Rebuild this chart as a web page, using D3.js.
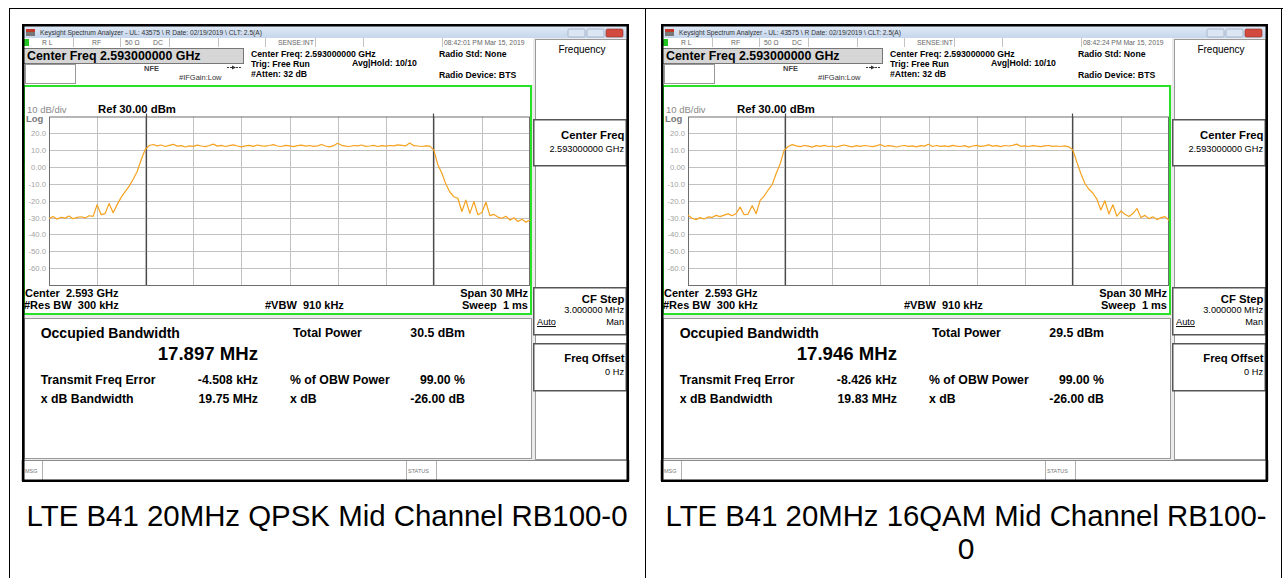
<!DOCTYPE html>
<html lang="en">
<head>
<meta charset="UTF-8">
<title>LTE B41 Occupied Bandwidth</title>
<script src="https://d3js.org/d3.v7.min.js"></script>
<style>
  body { margin: 0; background: #fff; }
  svg { display: block; font-family: 'Liberation Sans', Arial, sans-serif; }
  text { white-space: pre; }
</style>
</head>
<body>
<svg id="page" width="1283" height="578"></svg>
<script>
  // values
  var captions = [
    ['LTE B41 20MHz QPSK Mid Channel RB100-0'],
    ['LTE B41 20MHz 16QAM Mid Channel RB100-', '0']
  ];
  var timestamps = ['08:42:01 PM Mar 15, 2019', '08:42:24 PM Mar 15, 2019'];
  var obwMHz = [17.897, 17.946];
  var obwText = ['17.897 MHz', '17.946 MHz'];
  var totalPower = ['30.5 dBm', '29.5 dBm'];
  var freqError = ['-4.508 kHz', '-8.426 kHz'];
  var xdbBandwidth = ['19.75 MHz', '19.83 MHz'];
  var spanMHz = [-15, 15];
  var xGridMHz = [-12, -9, -6, -3, 0, 3, 6, 9, 12];
  var yRange = [-70, 30];
  var yTicks = [20, 10, 0, -10, -20, -30, -40, -50, -60];
  var yTickLabels = ['20.0', '10.0', '0.00', '-10.0', '-20.0', '-30.0', '-40.0', '-50.0', '-60.0'];

  // trace points in dBm, 121 points across the 30 MHz span
  var traceQPSK = [
    -30.6, -29.4, -30.9, -29.8, -30.3, -29.1, -30.7, -29.9, -29.5, -30.2, -28.9, -29.3,
    -22.4, -28.2, -27.6, -21.6, -27.1, -22.3, -18.0, -14.6, -11.3, -7.2, -2.6, 4.3, 10.4,
    12.8, 13.4, 12.6, 13.1, 12.2, 12.9, 13.5, 12.4, 12.7, 11.9,
    12.6, 12.3, 13.0, 12.5, 12.1, 12.8, 13.6, 12.4, 12.9, 12.2,
    12.7, 13.2, 12.5, 12.0, 12.6, 12.9, 12.3, 13.1, 12.6, 12.4,
    12.8, 13.3, 12.5, 12.2, 12.9, 12.6, 12.1, 12.7, 13.0, 12.4,
    12.8, 12.3, 12.6, 13.4, 12.5, 12.0, 12.7, 14.1, 12.9, 12.4,
    12.2, 12.8, 12.6, 13.1, 12.3, 12.5, 12.9, 12.2, 12.7, 12.4,
    12.8, 12.6, 13.2, 12.9, 12.6, 14.3, 12.7, 12.5, 12.2, 12.6,
    12.4,
    10.2, 1.4, -3.6, -10.1, -14.8, -17.6, -18.5, -26.4, -19.6, -27.5,
    -20.5, -28.3, -27.0, -20.9, -28.8, -28.1, -29.7, -30.4, -29.2, -31.5,
    -30.1, -32.3, -31.0, -32.7, -31.4
  ];
  var trace16QAM = [
    -28.6, -30.4, -31.2, -30.0, -30.8, -29.6, -29.9, -28.7, -29.4, -28.5, -27.8, -28.9,
    -27.6, -23.8, -28.3, -27.9, -22.9, -27.7, -19.8, -17.2, -13.6, -10.5, -3.8, 2.0, 10.0, 12.2,
    13.3, 12.6, 12.1, 12.8, 12.4, 11.8, 12.7, 12.3, 12.9, 12.2,
    12.5, 11.9, 12.6, 13.1, 12.4, 12.0, 12.7, 12.3, 12.8, 12.5,
    12.1, 12.6, 13.4, 12.2, 12.7, 12.4, 11.9, 12.5, 12.8, 12.3,
    12.6, 12.0, 12.7, 12.4, 13.5, 12.2, 12.8, 12.3, 12.6, 12.1,
    12.9, 12.4, 12.2, 12.7, 11.8, 12.5, 12.9, 12.3, 12.6, 13.2,
    12.4, 12.7, 12.1, 12.8, 12.5, 12.9, 13.6, 12.3, 12.6, 12.2,
    12.7, 12.4, 12.1, 12.6, 12.8, 12.3, 12.5, 12.2, 12.6, 12.0,
    10.3, 2.9, -3.8, -9.6, -13.2, -15.4, -19.0, -25.5, -20.0, -27.8,
    -22.4, -29.2, -26.1, -28.0, -29.3, -27.6, -24.6, -29.9, -28.7, -30.6,
    -29.5, -31.2, -30.0, -29.4, -31.6
  ];
  var traces = [traceQPSK, trace16QAM];

  var svg = d3.select('#page');

  var grad = svg.append('defs').append('linearGradient')
    .attr('id', 'titleGrad').attr('x1', 0).attr('y1', 0).attr('x2', 0).attr('y2', 1);
  grad.append('stop').attr('offset', '0%').attr('stop-color', '#e4edf8');
  grad.append('stop').attr('offset', '100%').attr('stop-color', '#c6d6ec');

  function txt(g, x, y, s, size, opts) {
    opts = opts || {};
    return g.append('text')
      .attr('x', x).attr('y', y)
      .attr('font-size', size)
      .attr('font-weight', opts.bold ? 'bold' : null)
      .attr('fill', opts.fill || '#000')
      .attr('text-anchor', opts.anchor || null)
      .text(s);
  }

  // word table borders
  svg.append('line').attr('x1', 9).attr('x2', 1283).attr('y1', 8.5).attr('y2', 8.5).attr('stroke', '#000');
  [9.5, 645.5, 1281.5].forEach(function(x) {
    svg.append('line').attr('x1', x).attr('x2', x).attr('y1', 8).attr('y2', 578).attr('stroke', '#000');
  });

  function drawScreen(k, ox, oy) {
    var g = svg.append('g').attr('transform', 'translate(' + ox + ',' + oy + ')');
    var trace = traces[k];

    g.append('rect').attr('width', 607).attr('height', 458).attr('fill', '#ebebeb');

    // title bar
    g.append('rect').attr('width', 607).attr('height', 14).attr('fill', 'url(#titleGrad)');
    g.append('rect').attr('x', 4).attr('y', 5).attr('width', 9).attr('height', 3).attr('fill', '#c0392b');
    g.append('rect').attr('x', 4).attr('y', 8).attr('width', 9).attr('height', 4).attr('fill', '#777');
    txt(g, 18, 11, 'Keysight Spectrum Analyzer - UL: 43575 \\ R Date: 02/19/2019 \\ CLT: 2.5(A)', 6.8, {fill: '#333'})
      .attr('textLength', 222).attr('lengthAdjust', 'spacingAndGlyphs');
    [[546, '#dce6f3', '#8a9bb5'], [565, '#dce6f3', '#8a9bb5'], [584, '#d24a3e', '#8b2a22']].forEach(function(b) {
      g.append('rect').attr('x', b[0]).attr('y', 5).attr('width', 17).attr('height', 8)
        .attr('rx', 1.5).attr('fill', b[1]).attr('stroke', b[2]).attr('stroke-width', 0.6);
    });

    // status row
    g.append('rect').attr('x', 0).attr('y', 14).attr('width', 511).attr('height', 9).attr('fill', '#fff');
    [51, 98, 147, 196, 243, 293, 341, 420].forEach(function(x) {
      g.append('line').attr('x1', x + 0.5).attr('x2', x + 0.5).attr('y1', 14).attr('y2', 23).attr('stroke', '#c4c4c4');
    });
    g.append('rect').attr('x', 1).attr('y', 15).attr('width', 6).attr('height', 7).attr('fill', '#21c421');
    [['R L', 20], ['RF', 70], ['50 \u03a9', 103], ['DC', 131], ['SENSE:INT', 256], [timestamps[k], 422]].forEach(function(s) {
      txt(g, s[1], 21, s[0], 6.8, {fill: '#666'});
    });

    // setting summary
    g.append('rect').attr('x', 0).attr('y', 23).attr('width', 511).attr('height', 38).attr('fill', '#fff');
    g.append('rect').attr('x', 0.5).attr('y', 24.5).attr('width', 221).attr('height', 15)
      .attr('fill', '#d6d6d6').attr('stroke', '#777');
    txt(g, 5, 36, 'Center Freq 2.593000000 GHz', 12.4, {bold: true});
    g.append('rect').attr('x', 3.5).attr('y', 40.5).attr('width', 50).attr('height', 19)
      .attr('fill', '#fff').attr('stroke', '#999');
    txt(g, 122, 47, 'NFE', 7.5, {fill: '#444', bold: true});
    g.append('line').attr('x1', 205).attr('x2', 220).attr('y1', 43.5).attr('y2', 43.5).attr('stroke', '#333').attr('stroke-dasharray', '2,1');
    g.append('path').attr('d', 'M210,41.5L214,43.5L210,45.5Z').attr('fill', '#333');
    txt(g, 157, 56, '#IFGain:Low', 7.5, {fill: '#333'});
    txt(g, 229, 33, 'Center Freq: 2.593000000 GHz', 8.7, {bold: true});
    txt(g, 229, 43, 'Trig: Free Run', 8.7, {bold: true});
    txt(g, 229, 53, '#Atten: 32 dB', 8.7, {bold: true});
    txt(g, 330, 42, 'Avg|Hold: 10/10', 8.7, {bold: true});
    txt(g, 417, 33, 'Radio Std: None', 8.7, {bold: true});
    txt(g, 417, 54, 'Radio Device: BTS', 8.7, {bold: true});

    // measurement window
    g.append('rect').attr('x', 2).attr('y', 62).attr('width', 507).attr('height', 228)
      .attr('fill', '#fff').attr('stroke', '#27e327').attr('stroke-width', 2);

    var gx0 = 27, gx1 = 508, gy0 = 92.5, gy1 = 261;
    var xf = d3.scaleLinear().domain(spanMHz).range([gx0, gx1]);
    var xi = d3.scaleLinear().domain([0, trace.length - 1]).range([gx0, gx1]);
    var y = d3.scaleLinear().domain(yRange).range([gy1, gy0]);

    txt(g, 5, 89, '10 dB/div', 9.5, {fill: '#8a8a8a'});
    txt(g, 76, 89, 'Ref 30.00 dBm', 11.3, {bold: true});
    txt(g, 4, 98, 'Log', 9.5, {fill: '#7a7a7a', bold: true});

    g.selectAll('line.hgrid').data(yTicks).enter().append('line')
      .attr('class', 'hgrid')
      .attr('x1', gx0).attr('x2', gx1)
      .attr('y1', function(d) { return Math.round(y(d)) + 0.5; })
      .attr('y2', function(d) { return Math.round(y(d)) + 0.5; })
      .attr('stroke', '#c2c2c2');
    g.selectAll('line.vgrid').data(xGridMHz).enter().append('line')
      .attr('class', 'vgrid')
      .attr('x1', function(d) { return Math.round(xf(d)) + 0.5; })
      .attr('x2', function(d) { return Math.round(xf(d)) + 0.5; })
      .attr('y1', gy0).attr('y2', gy1)
      .attr('stroke', '#c2c2c2');
    g.append('rect').attr('x', gx0 + 0.5).attr('y', gy0 + 0.5).attr('width', gx1 - gx0 - 1).attr('height', gy1 - gy0)
      .attr('fill', 'none').attr('stroke', '#6e6e6e');

    g.selectAll('text.ylab').data(yTicks).enter().append('text')
      .attr('class', 'ylab')
      .attr('x', 24).attr('y', function(d) { return y(d) + 3; })
      .attr('text-anchor', 'end').attr('font-size', 7.7).attr('fill', '#a3a3a3')
      .text(function(d, i) { return yTickLabels[i]; });

    // OBW markers
    [-obwMHz[k] / 2, obwMHz[k] / 2].forEach(function(m) {
      var mx = Math.round(xf(m)) + 0.5;
      g.append('line').attr('x1', mx).attr('x2', mx).attr('y1', gy0 - 3).attr('y2', gy1)
        .attr('stroke', '#4a4a4a').attr('stroke-width', 1.2);
    });

    var line = d3.line()
      .x(function(d, i) { return xi(i); })
      .y(function(d) { return y(d); });
    g.append('path').datum(trace)
      .attr('d', line)
      .attr('fill', 'none')
      .attr('stroke', '#f5a21e')
      .attr('stroke-width', 1.2)
      .attr('stroke-linejoin', 'round');

    txt(g, 3, 273, 'Center  2.593 GHz', 11, {bold: true});
    txt(g, 506, 273, 'Span 30 MHz', 11, {bold: true, anchor: 'end'});
    txt(g, 2, 285, '#Res BW  300 kHz', 11, {bold: true});
    txt(g, 243, 285, '#VBW  910 kHz', 11, {bold: true});
    txt(g, 506, 285, 'Sweep  1 ms', 11, {bold: true, anchor: 'end'});

    // results
    g.append('rect').attr('x', 2.5).attr('y', 294.5).attr('width', 507).attr('height', 140)
      .attr('fill', '#fff').attr('stroke', '#9a9a9a');
    txt(g, 18.7, 314, 'Occupied Bandwidth', 14, {bold: true});
    txt(g, 236, 336, obwText[k], 18.6, {bold: true, anchor: 'end'});
    txt(g, 271, 312.7, 'Total Power', 12.3, {bold: true});
    txt(g, 443, 312.7, totalPower[k], 12.3, {bold: true, anchor: 'end'});
    txt(g, 18.7, 360, 'Transmit Freq Error', 12.3, {bold: true});
    txt(g, 236, 360, freqError[k], 12.3, {bold: true, anchor: 'end'});
    txt(g, 268, 360, '% of OBW Power', 12.3, {bold: true});
    txt(g, 443, 360, '99.00 %', 12.3, {bold: true, anchor: 'end'});
    txt(g, 18.7, 379, 'x dB Bandwidth', 12.3, {bold: true});
    txt(g, 236, 379, xdbBandwidth[k], 12.3, {bold: true, anchor: 'end'});
    txt(g, 268, 379, 'x dB', 12.3, {bold: true});
    txt(g, 443, 379, '-26.00 dB', 12.3, {bold: true, anchor: 'end'});

    // status bar
    g.append('rect').attr('x', 0).attr('y', 436.5).attr('width', 607).attr('height', 20)
      .attr('fill', '#fff').attr('stroke', '#8a8a8a');
    [20.5, 384.5, 414.5].forEach(function(x) {
      g.append('line').attr('x1', x).attr('x2', x).attr('y1', 437).attr('y2', 456).attr('stroke', '#b0b0b0');
    });
    txt(g, 3, 449, 'MSG', 5.5, {fill: '#777'});
    txt(g, 386, 449, 'STATUS', 5.5, {fill: '#777'});

    // softkey menu
    g.append('rect').attr('x', 513.5).attr('y', 15.5).attr('width', 91).attr('height', 420)
      .attr('fill', '#fff').attr('stroke', '#9a9a9a');
    txt(g, 560, 29, 'Frequency', 10, {anchor: 'middle'});
    var keys = [
      {y: 95, h: 46, title: 'Center Freq', sub: '2.593000000 GHz', ty: 20, sy: 33},
      {y: 263, h: 47, title: 'CF Step', sub: '3.000000 MHz', ty: 16, sy: 26, auto: true},
      {y: 319, h: 47, title: 'Freq Offset', sub: '0 Hz', ty: 19, sy: 32}
    ];
    keys.forEach(function(s) {
      g.append('rect').attr('x', 511.75).attr('y', s.y + 0.75).attr('width', 92.5).attr('height', s.h)
        .attr('fill', '#fff').attr('stroke', '#555').attr('stroke-width', 1.5);
      txt(g, 602.5, s.y + s.ty, s.title, 11.3, {bold: true, anchor: 'end'});
      txt(g, 602, s.y + s.sy, s.sub, 9.2, {anchor: 'end'});
      if (s.auto) {
        txt(g, 515, s.y + 38, 'Auto', 9.2).attr('text-decoration', 'underline');
        txt(g, 602, s.y + 38, 'Man', 9.2, {anchor: 'end'});
      }
    });

    // outer frame of the screenshot
    g.append('rect').attr('x', 1.25).attr('y', 1.25).attr('width', 604.5).attr('height', 455.5)
      .attr('fill', 'none').attr('stroke', '#000').attr('stroke-width', 2.5);
  }

  drawScreen(0, 22, 24);
  drawScreen(1, 661, 24);

  // captions under each screenshot
  var capX = [327, 966];
  captions.forEach(function(lines, k) {
    lines.forEach(function(s, j) {
      var t = txt(svg, capX[k], 526 + j * 33, s, 30, {anchor: 'middle'});
      if (s.length > 5) t.attr('textLength', 601).attr('lengthAdjust', 'spacingAndGlyphs');
    });
  });
</script>
</body>
</html>
